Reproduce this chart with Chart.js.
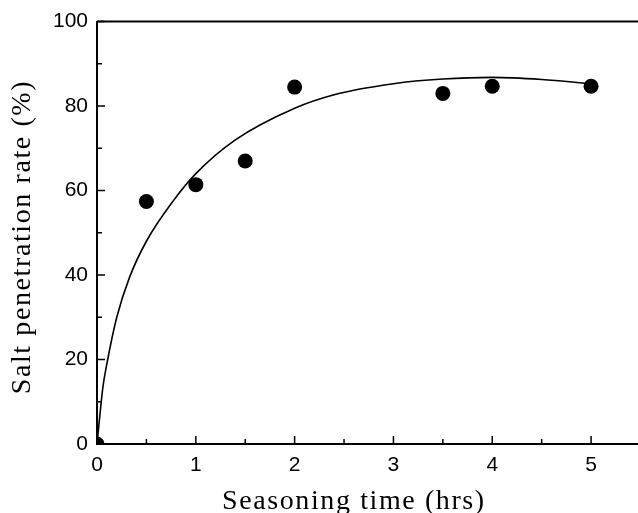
<!DOCTYPE html>
<html>
<head>
<meta charset="utf-8">
<script src="https://cdn.jsdelivr.net/npm/chart.js@4/dist/chart.umd.min.js"></script>
<style>
  html, body { margin: 0; padding: 0; background: #fff; overflow: hidden; }
</style>
</head>
<body>
<!-- a bit wider than the window so the plot runs off the right edge like the scan -->
<canvas id="chart" width="646" height="513"></canvas>
<script>
// measured points
const timeHrs = [0, 0.5, 1, 1.5, 2, 3.5, 4, 5];
const saltRate = [0, 57.4, 61.4, 67, 84.5, 83, 84.7, 84.7];

// fitted curve
const fitTime = [0, 0.03, 0.06, 0.1, 0.2, 0.33, 0.5, 0.77, 1, 1.4, 2, 2.4, 3, 3.5, 4, 4.5, 5];
const fitRate = [0, 7, 13.5, 19, 30, 39.5, 48, 57.5, 64, 72, 79.5, 82.7, 85.3, 86.4, 86.8, 86.3, 85.3];

const xMajor = [0, 1, 2, 3, 4, 5];
const xMinor = [0.5, 1.5, 2.5, 3.5, 4.5];
const yMajor = [0, 20, 40, 60, 80, 100];
const yMinor = [10, 30, 50, 70, 90];

const xTitle = 'Seasoning time (hrs)';
const yTitle = 'Salt penetration rate (%)';

// inward tick marks, top frame line and the two axis titles
const framePlugin = {
  id: 'frame',
  afterDraw(chart) {
    const { ctx, chartArea, scales } = chart;
    const x = scales.x, y = scales.y;
    ctx.save();
    ctx.strokeStyle = '#000';
    ctx.lineWidth = 1.5;
    ctx.beginPath();
    xMajor.forEach(v => { const p = x.getPixelForValue(v); ctx.moveTo(p, chartArea.bottom); ctx.lineTo(p, chartArea.bottom - 8); });
    xMinor.forEach(v => { const p = x.getPixelForValue(v); ctx.moveTo(p, chartArea.bottom); ctx.lineTo(p, chartArea.bottom - 5); });
    yMajor.forEach(v => { const p = y.getPixelForValue(v); ctx.moveTo(chartArea.left, p); ctx.lineTo(chartArea.left + 8, p); });
    yMinor.forEach(v => { const p = y.getPixelForValue(v); ctx.moveTo(chartArea.left, p); ctx.lineTo(chartArea.left + 5, p); });
    ctx.stroke();

    ctx.lineWidth = 2;
    ctx.beginPath();
    ctx.moveTo(chartArea.left, chartArea.top);
    ctx.lineTo(chart.width, chartArea.top);
    ctx.stroke();

    ctx.fillStyle = '#000';
    ctx.font = '28px "Liberation Serif", "Times New Roman", serif';
    ctx.letterSpacing = '1.6px';
    ctx.textAlign = 'center';
    ctx.textBaseline = 'alphabetic';
    ctx.fillText(xTitle, x.getPixelForValue(2.6), chart.height - 4);

    ctx.translate(30, y.getPixelForValue(49));
    ctx.rotate(-Math.PI / 2);
    ctx.fillText(yTitle, 0, 0);
    ctx.restore();
  }
};

new Chart(document.getElementById('chart'), {
  type: 'scatter',
  data: {
    datasets: [
      {
        label: 'fit',
        data: fitTime.map((t, i) => ({ x: t, y: fitRate[i] })),
        showLine: true,
        borderColor: '#000',
        borderWidth: 1.6,
        pointRadius: 0,
        cubicInterpolationMode: 'monotone',
        clip: 0
      },
      {
        label: 'measured',
        data: timeHrs.map((t, i) => ({ x: t, y: saltRate[i] })),
        backgroundColor: '#000',
        borderColor: '#000',
        pointRadius: 7.5,
        pointBorderWidth: 0,
        clip: 0
      }
    ]
  },
  options: {
    responsive: false,
    animation: false,
    layout: { padding: { top: 20, right: 0, left: 0, bottom: 0 } },
    plugins: {
      legend: { display: false },
      tooltip: { enabled: false }
    },
    scales: {
      x: {
        type: 'linear',
        min: 0,
        max: 5.48,
        grid: { display: false, drawTicks: false },
        border: { display: true, color: '#000', width: 2 },
        afterBuildTicks: scale => { scale.ticks = xMajor.map(v => ({ value: v })); },
        afterFit: scale => { scale.height = 69; },
        ticks: {
          color: '#000',
          padding: 9,
          maxRotation: 0,
          font: { family: '"Liberation Sans", Arial', size: 21 }
        }
      },
      y: {
        min: 0,
        max: 100,
        grid: { display: false, drawTicks: false },
        border: { display: true, color: '#000', width: 2 },
        afterBuildTicks: scale => { scale.ticks = yMajor.map(v => ({ value: v })); },
        afterFit: scale => { scale.width = 97; },
        ticks: {
          color: '#000',
          padding: 9,
          font: { family: '"Liberation Sans", Arial', size: 21 }
        }
      }
    }
  },
  plugins: [framePlugin]
});
</script>
</body>
</html>
